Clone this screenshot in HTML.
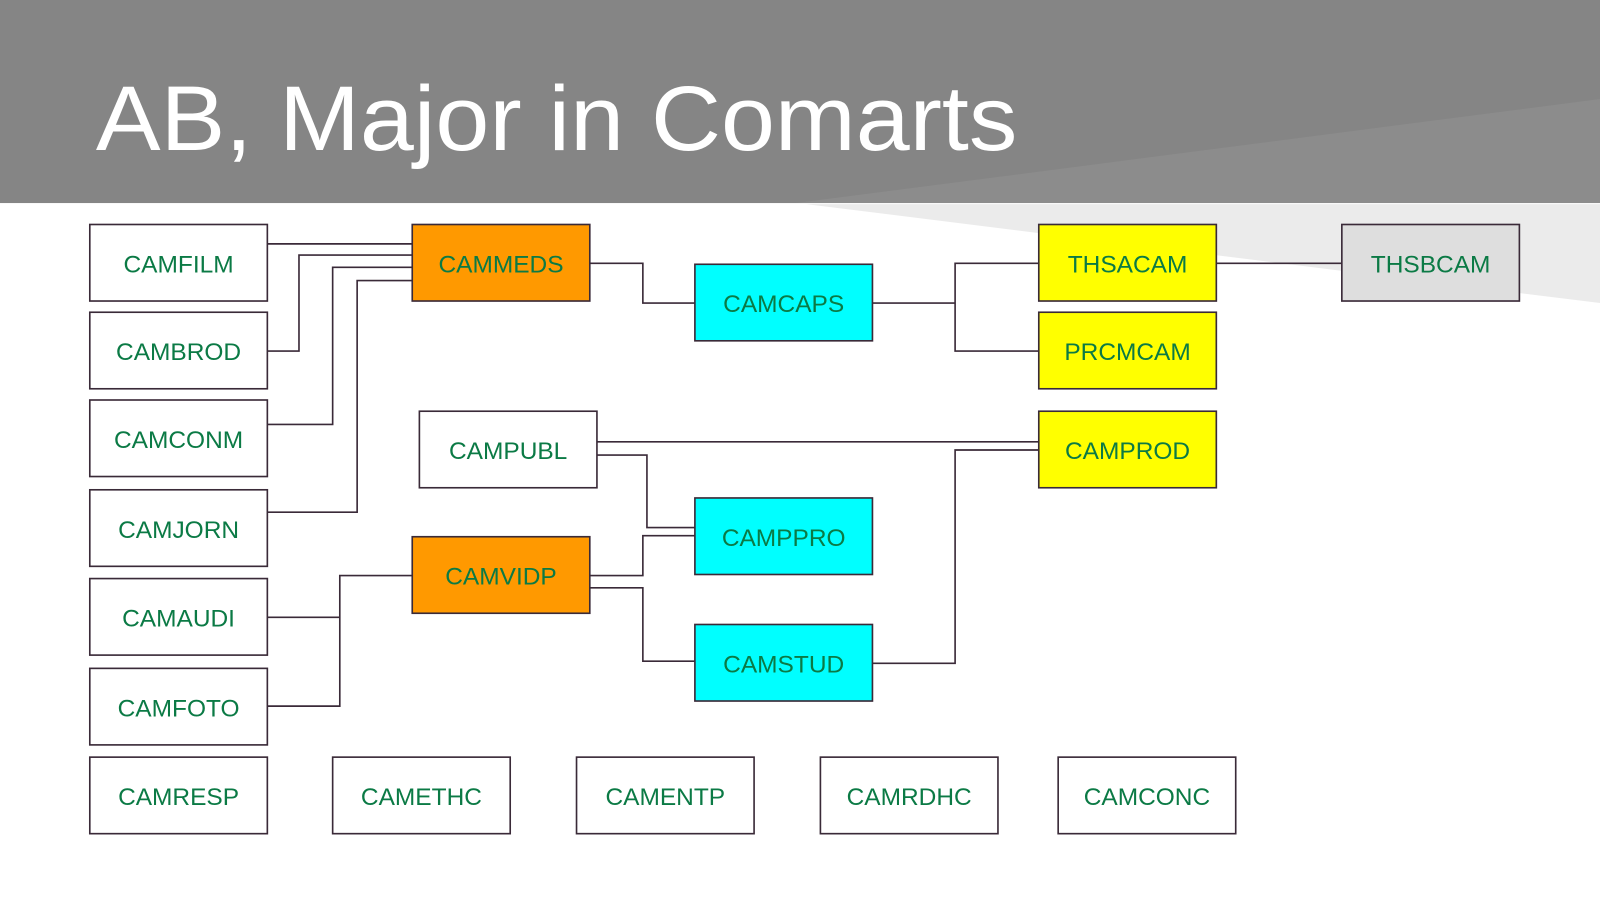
<!DOCTYPE html>
<html><head><meta charset="utf-8"><style>
html,body{margin:0;padding:0;background:#fff;overflow:hidden}
svg{display:block}
text{font-family:"Liberation Sans",sans-serif}
.b{stroke:#3a2a38;stroke-width:1.6}
.l{stroke:#3a2a38;stroke-width:1.6;fill:none}
.t{fill:#0b7a45;font-size:24px;text-anchor:middle}
</style></head><body>
<svg width="1600" height="900" viewBox="0 0 1568 882" preserveAspectRatio="none">
<rect x="0" y="0" width="1568" height="199" fill="#858585"/>
<polygon points="780,199 1568,97 1568,199" fill="#8c8c8c"/>
<polygon points="790,200 1568,200 1568,297" fill="#ebebeb"/>
<text x="94" y="147" fill="#fff" style="font-size:90px" textLength="903" lengthAdjust="spacingAndGlyphs">AB, Major in Comarts</text>
<g class="l">
<polyline points="262,239 404,239"/>
<polyline points="262,344 293,344 293,250 404,250"/>
<polyline points="262,416 326,416 326,262 404,262"/>
<polyline points="262,502 350,502 350,275 404,275"/>
<polyline points="578,258 630,258 630,297 681,297"/>
<polyline points="855,297 936,297"/>
<polyline points="1018,258 936,258 936,344 1018,344"/>
<polyline points="1192,258 1315,258"/>
<polyline points="585,433 1018,433"/>
<polyline points="585,446 634,446 634,517 681,517"/>
<polyline points="578,564 630,564 630,525 681,525"/>
<polyline points="578,576 630,576 630,648 681,648"/>
<polyline points="855,650 936,650 936,441 1018,441"/>
<polyline points="262,605 333,605"/>
<polyline points="262,692 333,692 333,564 404,564"/>
</g>
<g class="b">
<rect x="88" y="220" width="174" height="75" fill="#fff"/>
<rect x="88" y="306" width="174" height="75" fill="#fff"/>
<rect x="88" y="392" width="174" height="75" fill="#fff"/>
<rect x="88" y="480" width="174" height="75" fill="#fff"/>
<rect x="88" y="567" width="174" height="75" fill="#fff"/>
<rect x="88" y="655" width="174" height="75" fill="#fff"/>
<rect x="88" y="742" width="174" height="75" fill="#fff"/>
<rect x="326" y="742" width="174" height="75" fill="#fff"/>
<rect x="565" y="742" width="174" height="75" fill="#fff"/>
<rect x="804" y="742" width="174" height="75" fill="#fff"/>
<rect x="1037" y="742" width="174" height="75" fill="#fff"/>
<rect x="404" y="220" width="174" height="75" fill="#ff9900"/>
<rect x="411" y="403" width="174" height="75" fill="#fff"/>
<rect x="404" y="526" width="174" height="75" fill="#ff9900"/>
<rect x="681" y="259" width="174" height="75" fill="#00ffff"/>
<rect x="681" y="488" width="174" height="75" fill="#00ffff"/>
<rect x="681" y="612" width="174" height="75" fill="#00ffff"/>
<rect x="1018" y="220" width="174" height="75" fill="#ffff00"/>
<rect x="1018" y="306" width="174" height="75" fill="#ffff00"/>
<rect x="1018" y="403" width="174" height="75" fill="#ffff00"/>
<rect x="1315" y="220" width="174" height="75" fill="#dedede"/>
</g>
<g class="t">
<text x="175" y="267">CAMFILM</text>
<text x="175" y="353">CAMBROD</text>
<text x="175" y="439">CAMCONM</text>
<text x="175" y="527">CAMJORN</text>
<text x="175" y="614">CAMAUDI</text>
<text x="175" y="702">CAMFOTO</text>
<text x="175" y="789">CAMRESP</text>
<text x="413" y="789">CAMETHC</text>
<text x="652" y="789">CAMENTP</text>
<text x="891" y="789">CAMRDHC</text>
<text x="1124" y="789">CAMCONC</text>
<text x="491" y="267">CAMMEDS</text>
<text x="498" y="450">CAMPUBL</text>
<text x="491" y="573">CAMVIDP</text>
<text x="768" y="306">CAMCAPS</text>
<text x="768" y="535">CAMPPRO</text>
<text x="768" y="659">CAMSTUD</text>
<text x="1105" y="267">THSACAM</text>
<text x="1105" y="353">PRCMCAM</text>
<text x="1105" y="450">CAMPROD</text>
<text x="1402" y="267">THSBCAM</text>
</g>
</svg>
</body></html>
